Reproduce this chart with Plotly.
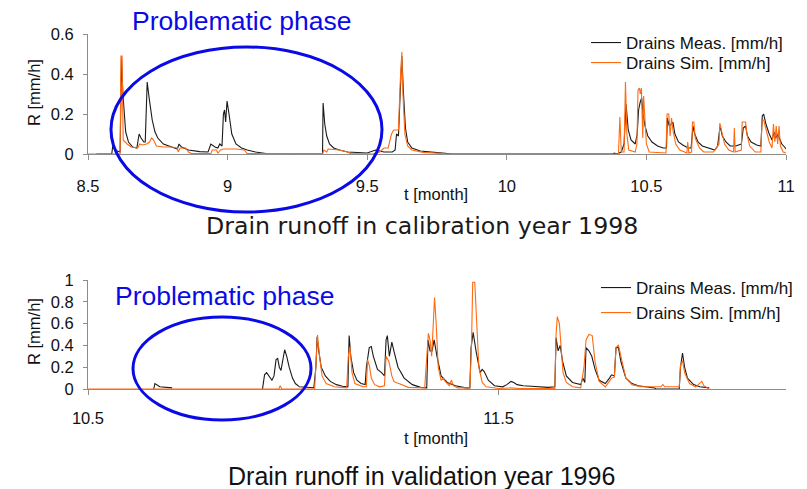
import plotly.graph_objects as go

# ---------------- data: drain runoff R [mm/h] vs time t [month] ----------------
# Calibration year 1998
cal_t_meas = [8.53, 8.585, 8.59, 8.595, 8.615, 8.62, 8.625, 8.63, 8.635, 8.645, 8.66, 8.675,
              8.683, 8.69, 8.7, 8.705, 8.712, 8.72, 8.73, 8.74, 8.75, 8.77, 8.8, 8.82, 8.826,
              8.835, 8.86, 8.9, 8.93, 8.94, 8.955, 8.965, 8.972, 8.98, 8.985, 8.989, 8.993,
              8.998, 9.005, 9.015, 9.03, 9.05, 9.07, 9.1, 9.15, 9.34, 9.342, 9.348, 9.355,
              9.365, 9.38, 9.4, 9.43, 9.47, 9.5, 9.53, 9.545, 9.56, 9.59, 9.6, 9.605, 9.612,
              9.618, 9.624, 9.63, 9.637, 9.645, 9.66, 9.69, 9.73, 9.78, 9.8, 10.38, 10.385,
              10.395, 10.41, 10.42, 10.427, 10.435, 10.445, 10.46, 10.467, 10.472, 10.478,
              10.483, 10.488, 10.495, 10.505, 10.52, 10.54, 10.56, 10.572, 10.575, 10.582,
              10.59, 10.595, 10.602, 10.615, 10.63, 10.65, 10.66, 10.667, 10.673, 10.685,
              10.7, 10.72, 10.745, 10.755, 10.764, 10.772, 10.785, 10.8, 10.82, 10.84,
              10.847, 10.855, 10.862, 10.875, 10.895, 10.91, 10.915, 10.92, 10.928, 10.94,
              10.95, 10.957, 10.963, 10.97, 10.978, 10.985, 10.995, 11.0]
cal_r_meas = [0, 0, 0.055, 0.02, 0.01, 0.48, 0.3, 0.18, 0.11, 0.06, 0.035, 0.03,
              0.1, 0.08, 0.06, 0.06, 0.36, 0.27, 0.17, 0.11, 0.08, 0.05, 0.035, 0.025, 0.05,
              0.035, 0.02, 0.012, 0.01, 0.05, 0.035, 0.03, 0.05, 0.04, 0.2, 0.22, 0.16,
              0.265, 0.2, 0.1, 0.05, 0.03, 0.02, 0.01, 0.0, 0.0, 0.255, 0.15, 0.09,
              0.05, 0.03, 0.02, 0.01, 0.005, 0.005, 0.02, 0.015, 0.01, 0.01, 0.02, 0.1, 0.09,
              0.3, 0.49, 0.3, 0.13, 0.06, 0.03, 0.015, 0.008, 0.003, 0.0, 0.0, 0.005,
              0.0, 0.01, 0.05, 0.25, 0.12, 0.07, 0.05, 0.1, 0.22, 0.26,
              0.28, 0.2, 0.14, 0.09, 0.06, 0.04, 0.03, 0.03, 0.18, 0.14,
              0.15, 0.16, 0.1, 0.06, 0.045, 0.03, 0.03, 0.14, 0.1, 0.06,
              0.04, 0.03, 0.02, 0.04, 0.14, 0.09, 0.06, 0.04, 0.04, 0.05,
              0.13, 0.14, 0.09, 0.06, 0.045, 0.04, 0.19, 0.2, 0.15, 0.1,
              0.07, 0.11, 0.08, 0.1, 0.07, 0.05, 0.035, 0.025]

cal_t_sim = [8.5, 8.615, 8.618, 8.622, 8.626, 8.64, 8.655, 8.668, 8.678, 8.685, 8.695, 8.71,
             8.72, 8.728, 8.735, 8.745, 8.77, 8.8, 8.82, 8.823, 8.83, 8.85, 8.855, 8.86,
             8.87, 8.94, 8.945, 8.96, 8.965, 8.975, 8.985, 9.03, 9.06, 9.07, 9.34, 9.345,
             9.355, 9.36, 9.4, 9.43, 9.44, 9.52, 9.545, 9.56, 9.575, 9.58, 9.587, 9.595,
             9.612, 9.618, 9.624, 9.628, 9.635, 9.645, 9.66, 9.7, 9.75, 9.8, 10.4, 10.405,
             10.41, 10.42, 10.425, 10.43, 10.437, 10.46, 10.466, 10.47, 10.475, 10.478,
             10.482, 10.487, 10.49, 10.495, 10.5, 10.51, 10.57, 10.574, 10.58, 10.585,
             10.59, 10.595, 10.605, 10.62, 10.645, 10.648, 10.652, 10.662, 10.665, 10.67,
             10.675, 10.69, 10.705, 10.74, 10.75, 10.76, 10.763, 10.768, 10.78, 10.795,
             10.812, 10.815, 10.818, 10.84, 10.843, 10.855, 10.86, 10.87, 10.89, 10.91,
             10.914, 10.92, 10.93, 10.94, 10.95, 10.955, 10.96, 10.965, 10.97, 10.975,
             10.98, 10.99, 11.0]
cal_r_sim = [0, 0, 0.49, 0.49, 0.07, 0.05, 0.035, 0.03, 0.03, 0.05, 0.045, 0.05,
             0.06, 0.08, 0.07, 0.04, 0.035, 0.035, 0.03, 0.01, 0.03, 0.03, 0.02, 0.01,
             0.002, 0.002, 0.02, 0.02, 0.005, 0.02, 0.025, 0.025, 0.02, 0.002, 0, 0.02,
             0.01, 0.025, 0.02, 0.01, 0.002, 0, 0.01, 0.03, 0.03, 0.06, 0.1, 0.12,
             0.12, 0.35, 0.51, 0.3, 0.1, 0.04, 0.02, 0.008, 0.003, 0, 0, 0.185,
             0.01, 0.01, 0.36, 0.1, 0.02, 0.01, 0.05, 0.32, 0.33, 0.3,
             0.33, 0.08, 0.29, 0.15, 0.05, 0.01, 0.005, 0.2, 0.2, 0.09,
             0.18, 0.12, 0.05, 0.02, 0.005, 0.06, 0.005, 0.01, 0.16, 0.16,
             0.08, 0.03, 0.01, 0.01, 0.03, 0.05, 0.155, 0.12, 0.05, 0.02,
             0.01, 0.13, 0.01, 0.02, 0.16, 0.16, 0.1, 0.04, 0.01, 0.01,
             0.17, 0.17, 0.12, 0.06, 0.03, 0.15, 0.06, 0.14, 0.05, 0.14,
             0.04, 0.01, 0.005]

# Validation year 1996 (None = gap in the measured record)
val_t_meas = [10.66, 10.663, 10.675, 10.7, 10.705, None,
              10.925, 10.93, 10.935, 10.94, 10.948, 10.953, 10.958, 10.962, 10.966, 10.97,
              10.975, 10.979, 10.984, 10.99, 10.998, 11.005, 11.015, 11.03, 11.05, 11.055,
              11.058, 11.062, 11.068, 11.078, 11.09, 11.105, 11.12, 11.133, 11.136, 11.14,
              11.147, 11.155, 11.165, 11.175, 11.178, 11.185, 11.19, 11.195, 11.205, 11.215,
              11.222, 11.226, 11.229, 11.234, 11.24, 11.245, 11.255, 11.27, 11.29, 11.31,
              11.325, 11.328, 11.333, 11.338, 11.343, 11.35, 11.36, 11.375, 11.395, 11.42,
              11.43, 11.433, 11.438, 11.445, 11.455, 11.46, 11.465, 11.475, 11.49, 11.51,
              11.52, 11.53, 11.537, 11.545, 11.56, 11.58, 11.6, 11.62, 11.637, 11.64,
              11.645, 11.65, 11.656, 11.665, 11.68, 11.695, 11.7, 11.705, 11.71, 11.713,
              11.72, 11.727, 11.735, 11.745, 11.76, 11.77, 11.775, 11.782, 11.786, 11.792,
              11.798, 11.81, 11.825, 11.84, 11.86, 11.88, 11.883, 11.94, 11.943, 11.948,
              11.953, 11.96, 11.975, 11.99, 12.013]
val_r_meas = [0, 0.05, 0.02, 0.01, 0.01, None,
              0, 0.13, 0.15, 0.12, 0.08, 0.12, 0.27, 0.28, 0.2, 0.17,
              0.3, 0.36, 0.3, 0.2, 0.1, 0.05, 0.02, 0.015, 0.012, 0.2,
              0.48, 0.35, 0.2, 0.12, 0.07, 0.04, 0.025, 0.02, 0.49, 0.3,
              0.15, 0.08, 0.05, 0.04, 0.2, 0.38, 0.39, 0.3, 0.18, 0.15,
              0.12, 0.45, 0.49, 0.3, 0.43, 0.35, 0.2, 0.1, 0.04, 0.015,
              0.01, 0.45, 0.35, 0.35, 0.45, 0.3, 0.12, 0.06, 0.03, 0.01,
              0.01, 0.38, 0.52, 0.35, 0.15, 0.18, 0.16, 0.08, 0.03, 0.02,
              0.04, 0.07, 0.06, 0.04, 0.03, 0.025, 0.02, 0.015, 0.02, 0.47,
              0.35, 0.4, 0.25, 0.12, 0.06, 0.04, 0.04, 0.1, 0.06, 0.38,
              0.35, 0.3, 0.18, 0.08, 0.05, 0.1, 0.13, 0.12, 0.38, 0.38,
              0.25, 0.1, 0.05, 0.03, 0.02, 0.01, 0.0, 0.0, 0.2, 0.33,
              0.2, 0.1, 0.04, 0.02, 0.01]

val_t_sim = [10.5, 10.965, 10.968, 10.972, 11.052, 11.056, 11.059, 11.064, 11.07, 11.08,
             11.1, 11.13, 11.134, 11.138, 11.143, 11.15, 11.17, 11.178, 11.181, 11.186,
             11.19, 11.198, 11.21, 11.222, 11.226, 11.233, 11.24, 11.245, 11.25, 11.265,
             11.28, 11.32, 11.326, 11.329, 11.333, 11.337, 11.341, 11.344, 11.348, 11.353,
             11.36, 11.365, 11.37, 11.38, 11.385, 11.39, 11.4, 11.43, 11.434, 11.437,
             11.442, 11.446, 11.452, 11.46, 11.47, 11.5, 11.53, 11.55, 11.637, 11.64,
             11.643, 11.648, 11.652, 11.657, 11.665, 11.68, 11.7, 11.708, 11.713, 11.72,
             11.728, 11.735, 11.745, 11.76, 11.775, 11.782, 11.786, 11.792, 11.798, 11.81,
             11.825, 11.845, 11.87, 11.895, 11.9, 11.905, 11.94, 11.943, 11.948, 11.953,
             11.965, 11.98, 11.995, 12.0, 12.013]
val_r_sim = [0, 0, 0.03, 0, 0, 0.3, 0.495, 0.3, 0.12, 0.05,
             0.02, 0.01, 0.3, 0.39, 0.15, 0.05, 0.02, 0.02, 0.27, 0.2,
             0.1, 0.04, 0.02, 0.03, 0.3, 0.25, 0.12, 0.07, 0.06, 0.04,
             0.015, 0.01, 0.3, 0.51, 0.45, 0.3, 0.6, 0.84, 0.6, 0.2,
             0.08, 0.1, 0.07, 0.03, 0.08, 0.03, 0.01, 0.01, 0.4, 0.98,
             0.98, 0.6, 0.2, 0.06, 0.02, 0.005, 0.01, 0.005, 0.005, 0.5,
             0.664, 0.6, 0.35, 0.15, 0.06, 0.02, 0.01, 0.2, 0.45, 0.5,
             0.49, 0.25, 0.07, 0.02, 0.1, 0.11, 0.38, 0.4, 0.3, 0.1,
             0.04, 0.02, 0.02, 0.02, 0.04, 0.02, 0.02, 0.22, 0.26, 0.15,
             0.05, 0.02, 0.07, 0.03, 0.0]

cal_xticks = [8.5, 9, 9.5, 10, 10.5, 11]
val_xticks = [10.5, 11.5]
meas_name = "Drains Meas. [mm/h]"
sim_name = "Drains Sim. [mm/h]"

# ---------------- styling ----------------
W, H = 807, 489
BLACK = "#1a1a1a"
ORANGE = "#ff6a10"
BLUE = "#0a0ae6"
AXIS = "#8c8c8c"
FONT = "Arial, Liberation Sans, sans-serif"


def fx(p):
    return p / W


def fy(p):
    return 1 - p / H


fig = go.Figure()
fig.add_trace(go.Scatter(x=cal_t_meas, y=cal_r_meas, name=meas_name, mode="lines",
                         line=dict(color=BLACK, width=1.1), xaxis="x", yaxis="y",
                         legend="legend", connectgaps=False))
fig.add_trace(go.Scatter(x=cal_t_sim, y=cal_r_sim, name=sim_name, mode="lines",
                         line=dict(color=ORANGE, width=1.1), xaxis="x", yaxis="y",
                         legend="legend3"))
fig.add_trace(go.Scatter(x=val_t_meas, y=val_r_meas, name=meas_name, mode="lines",
                         line=dict(color=BLACK, width=1.1), xaxis="x2", yaxis="y2",
                         legend="legend2", connectgaps=False))
fig.add_trace(go.Scatter(x=val_t_sim, y=val_r_sim, name=sim_name, mode="lines",
                         line=dict(color=ORANGE, width=1.1), xaxis="x2", yaxis="y2",
                         legend="legend4"))

common_x = dict(showgrid=False, zeroline=False, showline=True, linecolor=AXIS, linewidth=1,
                ticks="outside", ticklen=5, tickcolor=AXIS, automargin=False,
                tickfont=dict(family=FONT, size=16.5, color="#111"))
common_y = dict(showgrid=False, zeroline=False, showline=True, linecolor=AXIS, linewidth=1,
                ticks="outside", ticklen=4, tickcolor=AXIS, dtick=0.2, tick0=0, automargin=False,
                tickfont=dict(family=FONT, size=16.5, color="#111"))


def legend_at(x_px, top_px):
    return dict(x=fx(x_px), y=fy(top_px), xanchor="left", yanchor="top",
                bgcolor="rgba(0,0,0,0)", font=dict(family=FONT, size=17, color="#111"),
                itemwidth=30, tracegroupgap=0)


fig.update_layout(
    width=W, height=H,
    margin=dict(l=0, r=0, t=0, b=0, autoexpand=False),
    paper_bgcolor="white", plot_bgcolor="white",
    xaxis=dict(common_x, domain=[fx(88), fx(786)], range=[8.5, 11],
               tickvals=cal_xticks, ticktext=[f"{v:g}" for v in cal_xticks],
               ticklabelstandoff=12, anchor="y"),
    yaxis=dict(common_y, domain=[fy(154), fy(34)], range=[0, 0.6], anchor="x",
               ticklabelstandoff=6),
    xaxis2=dict(common_x, domain=[fx(88), fx(786)], range=[10.5, 12.2],
                tickvals=val_xticks, ticktext=[f"{v:g}" for v in val_xticks],
                ticklabelstandoff=9, anchor="y2"),
    yaxis2=dict(common_y, domain=[fy(389), fy(280)], range=[0, 1], anchor="x2",
                ticklabelstandoff=6),
    legend=legend_at(586, 25),
    legend3=legend_at(586, 45),
    legend2=legend_at(596, 270),
    legend4=legend_at(596, 295),
    showlegend=True,
)

annotations = [
    dict(text="Problematic phase", x=fx(241), y=fy(21), font=dict(family=FONT, size=26.5, color=BLUE)),
    dict(text="Problematic phase", x=fx(224), y=fy(296), font=dict(family=FONT, size=26.5, color=BLUE)),
    dict(text="Drain runoff in calibration year 1998", x=fx(422), y=fy(226),
         font=dict(family="DejaVu Sans", size=23.7, color="#1a1a1a")),
    dict(text="Drain runoff in validation year 1996", x=fx(421), y=fy(476),
         font=dict(family=FONT, size=25, color="#111")),
    dict(text="t [month]", x=fx(436), y=fy(194), font=dict(family=FONT, size=16.5, color="#111")),
    dict(text="t [month]", x=fx(436), y=fy(438), font=dict(family=FONT, size=16.5, color="#111")),
    dict(text="R [mm/h]", x=fx(34), y=fy(93), textangle=-90, font=dict(family=FONT, size=16.5, color="#111")),
    dict(text="R [mm/h]", x=fx(34), y=fy(332), textangle=-90, font=dict(family=FONT, size=16.5, color="#111")),
]
for a in annotations:
    a.update(xref="paper", yref="paper", xanchor="center", yanchor="middle", showarrow=False)
fig.update_layout(annotations=annotations)

# highlight ellipses around the problematic phases
fig.add_shape(type="circle", xref="paper", yref="paper",
              x0=fx(111), x1=fx(382), y0=fy(212), y1=fy(47),
              line=dict(color=BLUE, width=3))
fig.add_shape(type="circle", xref="paper", yref="paper",
              x0=fx(133), x1=fx(311), y0=fy(420), y1=fy(317),
              line=dict(color=BLUE, width=3))

fig.write_html("out.html")
